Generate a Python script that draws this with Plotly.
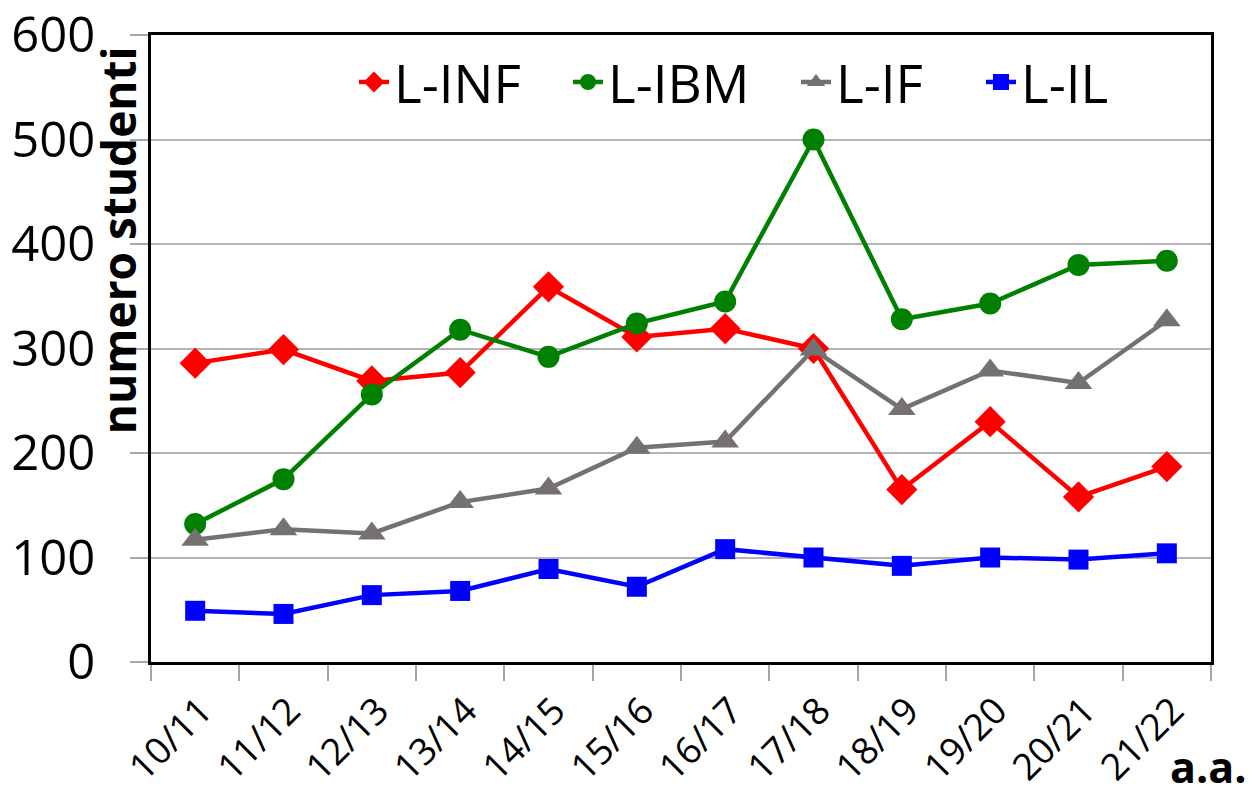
import plotly.graph_objects as go

years = ["10/11", "11/12", "12/13", "13/14", "14/15", "15/16",
         "16/17", "17/18", "18/19", "19/20", "20/21", "21/22"]
l_inf = [286, 299, 269, 277, 359, 311, 319, 300, 165, 230, 158, 187]
l_ibm = [132, 175, 256, 318, 292, 324, 345, 500, 328, 343, 380, 384]
l_if = [117, 127, 123, 153, 166, 205, 211, 299, 242, 279, 267, 327]
l_il = [49, 46, 64, 68, 89, 72, 108, 100, 92, 100, 98, 104]
y_ticks = [0, 100, 200, 300, 400, 500, 600]

FONT = "Open Sans"

series = [
    ("L-INF", l_inf, "#ff0000", "diamond", 24, "legend", 0.1915),
    ("L-IBM", l_ibm, "#008000", "circle", 22, "legend2", 0.3934),
    ("L-IF", l_if, "#767171", "triangle-up", 24, "legend3", 0.6085),
    ("L-IL", l_il, "#0000ff", "square", 20, "legend4", 0.7830),
]

fig = go.Figure()
legends = {}
for name, vals, col, sym, sz, leg, lx in series:
    fig.add_trace(go.Scatter(
        x=years, y=vals, name=name, mode="lines+markers",
        line=dict(color=col, width=4.5),
        marker=dict(symbol=sym, size=sz, color=col),
        legend=leg,
    ))
    legends[leg] = dict(orientation="h", x=lx, y=0.925, xanchor="left",
                        yanchor="middle", font=dict(size=53, family=FONT),
                        bgcolor="rgba(0,0,0,0)", itemwidth=30)

fig.update_layout(
    width=1254, height=800,
    margin=dict(l=151, r=43, t=35, b=138, autoexpand=False),
    paper_bgcolor="white", plot_bgcolor="white",
    font=dict(family=FONT, color="black"),
    showlegend=True,
    xaxis=dict(
        type="category", range=[-0.5, 11.5], automargin=False,
        tickson="boundaries", ticks="outside", ticklen=16, tickwidth=2,
        tickcolor="#a6a6a6", tickangle=-45,
        ticklabelshift=6, ticklabelstandoff=9,
        tickfont=dict(size=37, family=FONT),
        showline=True, linecolor="black", linewidth=3, mirror=True,
        showgrid=False,
    ),
    yaxis=dict(
        range=[0, 600], tickvals=y_ticks, automargin=False,
        ticks="outside", ticklen=18, tickwidth=2, tickcolor="#a6a6a6",
        ticklabelstandoff=25,
        tickfont=dict(size=49, family=FONT),
        showline=True, linecolor="black", linewidth=3, mirror=True,
        showgrid=True, gridcolor="#b3b3b3", gridwidth=2,
        zeroline=False,
    ),
    **legends,
)

fig.add_annotation(
    text="<b>numero studenti</b>", xref="paper", yref="paper",
    x=-0.031, y=0.673, textangle=-90, showarrow=False,
    xanchor="center", yanchor="middle",
    font=dict(size=46, family=FONT, color="black"),
)
fig.add_annotation(
    text="<b>a.a.</b>", xref="paper", yref="paper",
    x=1.035, y=-0.2175, showarrow=False, xanchor="right", yanchor="bottom",
    font=dict(size=43, family=FONT, color="black"),
)

fig.write_html("out.html", config={"displayModeBar": False},
               post_script="document.body.style.margin='0';")
